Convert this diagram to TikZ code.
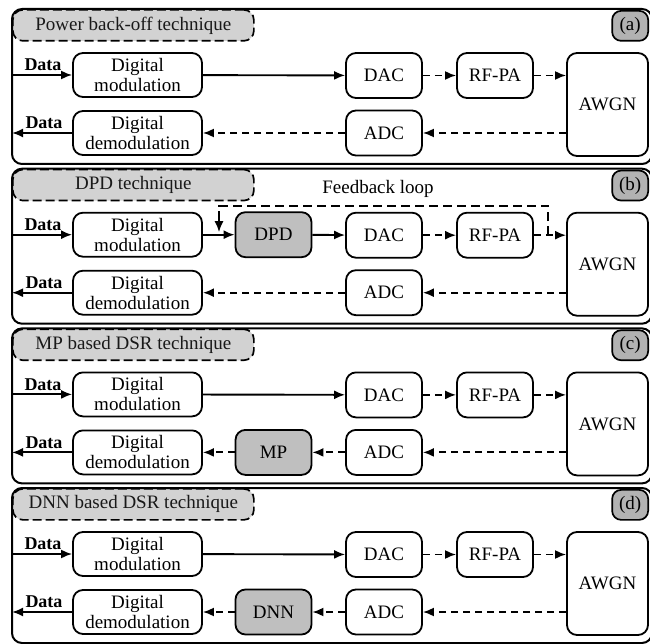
\documentclass[tikz,border=0pt]{standalone}
\usepackage{fontspec}
\setmainfont{Liberation Serif}
\usetikzlibrary{arrows.meta,calc}
\tikzset{
  base/.style={font=\fontsize{19}{20}\selectfont},
  frame/.style={line width=2pt, rounded corners=10pt},
  titlebox/.style={base, draw, line width=1.7pt, dash pattern=on 9pt off 4pt, rounded corners=10pt, fill=gray!35, minimum width=241pt, minimum height=31pt, inner sep=0pt, anchor=north west, text=black!90},
  tagbox/.style={base, draw, line width=1.7pt, rounded corners=9pt, fill=gray!60, minimum width=36pt, minimum height=30pt, inner sep=0pt, anchor=north east},
  blk/.style={base, draw, line width=1.8pt, rounded corners=10pt, fill=white, inner sep=0pt, align=center, minimum width=76pt, minimum height=45pt},
  gblk/.style={blk, fill=gray!50},
  lbl/.style={font=\fontsize{18}{20}\selectfont\bfseries, inner sep=0pt},
  arr/.style={line width=1.9pt, -{Latex[length=11pt,width=9pt]}},
  darr/.style={arr, dash pattern=on 7pt off 5pt},
  dline/.style={line width=1.9pt, dash pattern=on 9pt off 5pt},
}
\newcommand\basepanel[4]{%
  \begin{scope}[shift={(0,#2)}]
    \node[titlebox] (tit#1) at (12,9) {#3};
    \node[tagbox] (tag#1) at (649,10) {(#4)};
    \draw[frame] (12,9) rectangle (652,164);
    \node[blk, minimum width=129pt, minimum height=44pt] (mod#1) at (137.5,75) {Digital\\modulation};
    \node[blk, minimum width=129pt, minimum height=44pt] (dem#1) at (137.5,133) {Digital\\demodulation};
    \node[blk] (dac#1) at (384,75.5) {DAC};
    \node[blk] (rf#1) at (495,75.5) {RF-PA};
    \node[blk] (adc#1) at (384,133) {ADC};
    \node[blk, minimum width=81pt, minimum height=103pt] (awgn#1) at (607.5,104.5) {AWGN};
    \coordinate (in#1) at (12,75);
    \coordinate (out#1) at (12,133);
    \draw[arr] (in#1) -- (mod#1.west);
    \draw[arr] (dem#1.west) -- (out#1);
    \node[lbl] (din#1) at (43,65) {Data};
    \node[lbl] (dout#1) at (44,123) {Data};
    \draw[darr] (dac#1) -- (rf#1);
    \draw[darr] (rf#1.east) -- (rf#1.east -| awgn#1.west);
    \draw[darr] (awgn#1.west |- adc#1) -- (adc#1.east);
  \end{scope}}
\begin{document}
\begin{tikzpicture}[x=1pt,y=-1pt]
\useasboundingbox (0,0) rectangle (650,644);
\clip (0,0) rectangle (650,644);
% (a)
\basepanel{a}{0}{Power back-off technique}{a}
\draw[arr] (moda) -- (daca);
\draw[darr] (adca) -- (dema);
% (b)
\basepanel{b}{159.7}{DPD technique}{b}
\begin{scope}[shift={(0,159.7)}]
  \node[gblk] (dpd) at (273.5,75) {DPD};
  \node[base, inner sep=0pt] (fbl) at (378,29) {Feedback loop};
  \coordinate (tapR) at (548,75.5);
  \coordinate (cornR) at (548,46);
  \coordinate (cornL) at (219,46);
  \coordinate (tapL) at (219,72.5);
\end{scope}
\draw[arr] (modb) -- (dpd);
\draw[arr] (dpd) -- (dacb);
\draw[darr] (adcb) -- (demb);
\draw[dline] (tapR) -- (cornR) -- (cornL) -- ++(0,8);
\draw[arr] ($(cornL)+(0,8)$) -- (tapL);
% (c)
\basepanel{c}{319.4}{MP based DSR technique}{c}
\begin{scope}[shift={(0,319.4)}]
  \node[gblk] (mp) at (273.5,133) {MP};
\end{scope}
\draw[arr] (modc) -- (dacc);
\draw[darr] (adcc) -- (mp);
\draw[darr] (mp) -- (demc);
% (d)
\basepanel{d}{479}{DNN based DSR technique}{d}
\begin{scope}[shift={(0,479)}]
  \node[gblk] (dnn) at (273.5,133) {DNN};
\end{scope}
\draw[arr] (modd) -- (dacd);
\draw[darr] (adcd) -- (dnn);
\draw[darr] (dnn) -- (demd);
\end{tikzpicture}
\end{document}
